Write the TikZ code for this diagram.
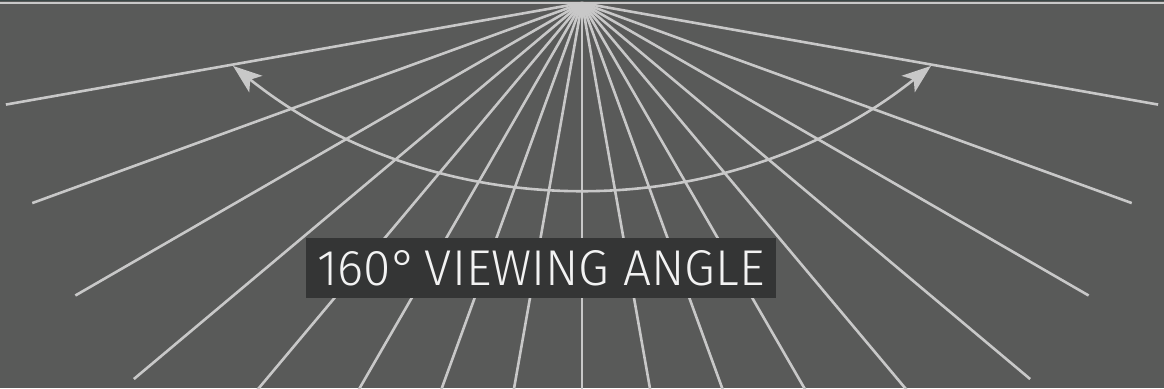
\documentclass[tikz,border=0pt]{standalone}
\usepackage{fontspec}
\usepackage{graphicx}
\usetikzlibrary{arrows.meta}
\newfontfamily\captionfont{Fira Sans Light}
\definecolor{BackGray}{RGB}{89,90,89}
\definecolor{RayGray}{RGB}{200,200,200}
\definecolor{BoxGray}{RGB}{52,53,53}
\definecolor{TextWhite}{RGB}{242,242,242}
\definecolor{TopStrip}{RGB}{58,70,70}

\begin{document}
\begin{tikzpicture}[x=1pt, y=1pt,
    ray/.style={RayGray, line width=2.6pt},
    sweep/.style={RayGray, line width=2.6pt,
      {Stealth[length=29pt,width=21pt,inset=7pt]}-{Stealth[length=29pt,width=21pt,inset=7pt]}},
    labelbox/.style={fill=BoxGray, text=TextWhite, minimum width=470pt,
      minimum height=60pt, inner sep=0pt}]
  \fill[BackGray] (0,0) rectangle (1164,388);
  \useasboundingbox (0,0) rectangle (1164,388);
  \coordinate (hub) at (582,385);
  \begin{scope}
    \clip (0,0) rectangle (1164,388);
    \foreach \a in {190,200,...,350}
      \draw[ray] (hub) -- ++(\a:585);
    \fill[TopStrip] (0,386.5) rectangle (1164,388);
    \draw[RayGray, line width=2.6pt] (0,385) -- (1164,385);
  \end{scope}
  \coordinate (sweepcentre) at (582,760);
  \draw[sweep] ([shift={(231.45:560)}]sweepcentre)
    arc[start angle=231.45, end angle=308.55, radius=560];
  \node[labelbox] (caption) at (541,120)
    {\resizebox{447pt}{35pt}{\captionfont 160°\kern-0.12em{} VIEWING ANGLE}};
\end{tikzpicture}
\end{document}
